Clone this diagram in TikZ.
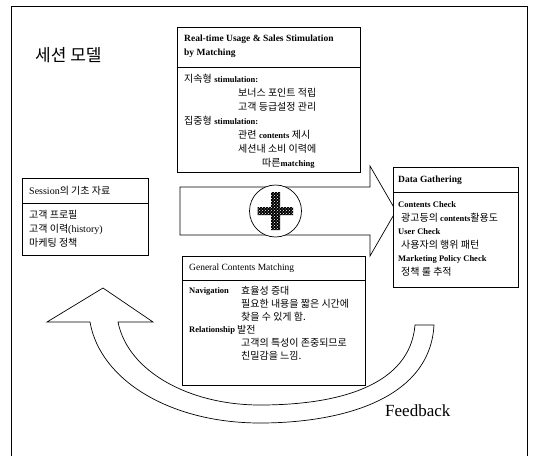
\documentclass[tikz,border=0pt]{standalone}
\usepackage{fontspec}
\setmainfont{Liberation Serif}
\newfontfamily\krfont{Noto Sans CJK KR}
\usetikzlibrary{patterns}
\newcommand{\kt}[1]{{\krfont #1}}
\begin{document}
\begin{tikzpicture}[x=1pt,y=-1pt,
  box/.style={draw, fill=white, line width=0.8pt, inner sep=0pt, outer sep=0pt, anchor=north west},
  txt/.style={anchor=west, inner sep=0pt, font=\fontsize{10}{11}\selectfont},
  hdr/.style={anchor=west, inner sep=0pt, font=\fontsize{9.5}{11}\selectfont},
  lat/.style={font=\fontsize{8.5}{10}\selectfont\bfseries},
  shape line/.style={draw, line width=0.7pt, line join=miter}]
\useasboundingbox (0,0) rectangle (535,455);
% outer frame
\draw[line width=0.8pt] (11,460) -- (11,6) -- (527,6) -- (527,460);
% title
\node[anchor=west, inner sep=0pt, font=\fontsize{17}{20}\selectfont\krfont] (title) at (35,55) {세션 모델};

% curved feedback arrow
\draw[shape line] (415,325) -- (434,325)
  .. controls (430,400) and (340,423) .. (260,423)
  .. controls (170,423) and (100,380) .. (90,322)
  -- (47,322) -- (103,288) -- (153,322) -- (118,322)
  .. controls (128,372) and (190,405) .. (260,405)
  .. controls (340,405) and (410,385) .. (415,325) -- cycle;
\node[anchor=west, inner sep=0pt, font=\rmfamily\fontsize{17}{20}\selectfont] (fb) at (385,411) {Feedback};

% big right arrow
\draw[shape line, fill=white] (180,187) -- (370,187) -- (370,166) -- (396,211) -- (370,256) -- (370,235) -- (180,235) -- cycle;
% circle with cross
\node[draw, circle, line width=0.7pt, minimum size=52pt, inner sep=0pt, fill=white] (plus) at (275.5,211) {};
\fill[black] (271,192) rectangle (280,230) (257.5,207) rectangle (293,215);
\fill[pattern=crosshatch dots, pattern color=white] (271,192) rectangle (280,230) (257.5,207) rectangle (293,215);

% Real-time box
\node[box, minimum width=183pt, minimum height=145pt] (rt) at (177,27) {};
\draw[line width=0.8pt] (177,67) -- (360,67);
\node[hdr, font=\fontsize{9.5}{11}\selectfont\bfseries] (rth1) at (184,39) {Real-time Usage \& Sales Stimulation};
\node[hdr, font=\fontsize{9.5}{11}\selectfont\bfseries] (rth2) at (184,53) {by Matching};
\node[txt] (rtb1) at (184,79) {\kt{지속형} {\fontsize{8.5}{10}\selectfont\bfseries stimulation:}};
\node[txt] (rtb2) at (238,93) {\kt{보너스 포인트 적립}};
\node[txt] (rtb3) at (238,107) {\kt{고객 등급설정 관리}};
\node[txt] (rtb4) at (184,121) {\kt{집중형} {\fontsize{8.5}{10}\selectfont\bfseries stimulation:}};
\node[txt] (rtb5) at (238,135) {\kt{관련} {\fontsize{8.5}{10}\selectfont\bfseries contents} \kt{제시}};
\node[txt] (rtb6) at (238,149) {\kt{세션내 소비 이력에}};
\node[txt] (rtb7) at (262,163) {\kt{따른}{\fontsize{8.5}{10}\selectfont\bfseries matching}};

% Session box
\node[box, minimum width=126pt, minimum height=77pt] (ss) at (22,178) {};
\draw[line width=0.8pt] (22,203) -- (148,203);
\node[txt] (sh) at (29,191) {Session\kt{의 기초 자료}};
\node[txt] (sb1) at (29,215) {\kt{고객 프로필}};
\node[txt] (sb2) at (29,229) {\kt{고객 이력}(history)};
\node[txt] (sb3) at (29,243) {\kt{마케팅 정책}};

% Data Gathering box
\node[box, minimum width=125pt, minimum height=120pt] (dg) at (393,167) {};
\draw[line width=0.8pt] (393,192) -- (518,192);
\node[hdr, font=\fontsize{9.5}{11}\selectfont\bfseries] (dh) at (398,180) {Data Gathering};
\node[txt, lat] (d1) at (398,205) {Contents Check};
\node[txt] (d2) at (401,218) {\kt{광고등의 }{\fontsize{8.5}{10}\selectfont\bfseries contents}\kt{활용도}};
\node[txt, lat] (d3) at (398,232) {User Check};
\node[txt] (d4) at (401,245) {\kt{사용자의 행위 패턴}};
\node[txt, lat] (d5) at (398,259) {Marketing Policy Check};
\node[txt] (d6) at (401,272) {\kt{정책 룰 추적}};

% General Contents box
\node[box, minimum width=183pt, minimum height=129pt] (gc) at (182,256) {};
\draw[line width=0.8pt] (182,280) -- (365,280);
\node[hdr] (gh) at (189,268) {General Contents Matching};
\node[txt, lat] (g1a) at (189,291) {Navigation};
\node[txt] (g1b) at (241,291) {\kt{효율성 증대}};
\node[txt] (g2) at (241,304) {\kt{필요한 내용을 짧은 시간에}};
\node[txt] (g3) at (241,317) {\kt{찾을 수 있게 함.}};
\node[txt, lat] (g4a) at (189,330) {Relationship};
\node[txt] (g4b) at (237,330) {\kt{발전}};
\node[txt] (g5) at (241,343) {\kt{고객의 특성이 존중되므로}};
\node[txt] (g6) at (241,356) {\kt{친밀감을 느낌.}};
\end{tikzpicture}
\end{document}
